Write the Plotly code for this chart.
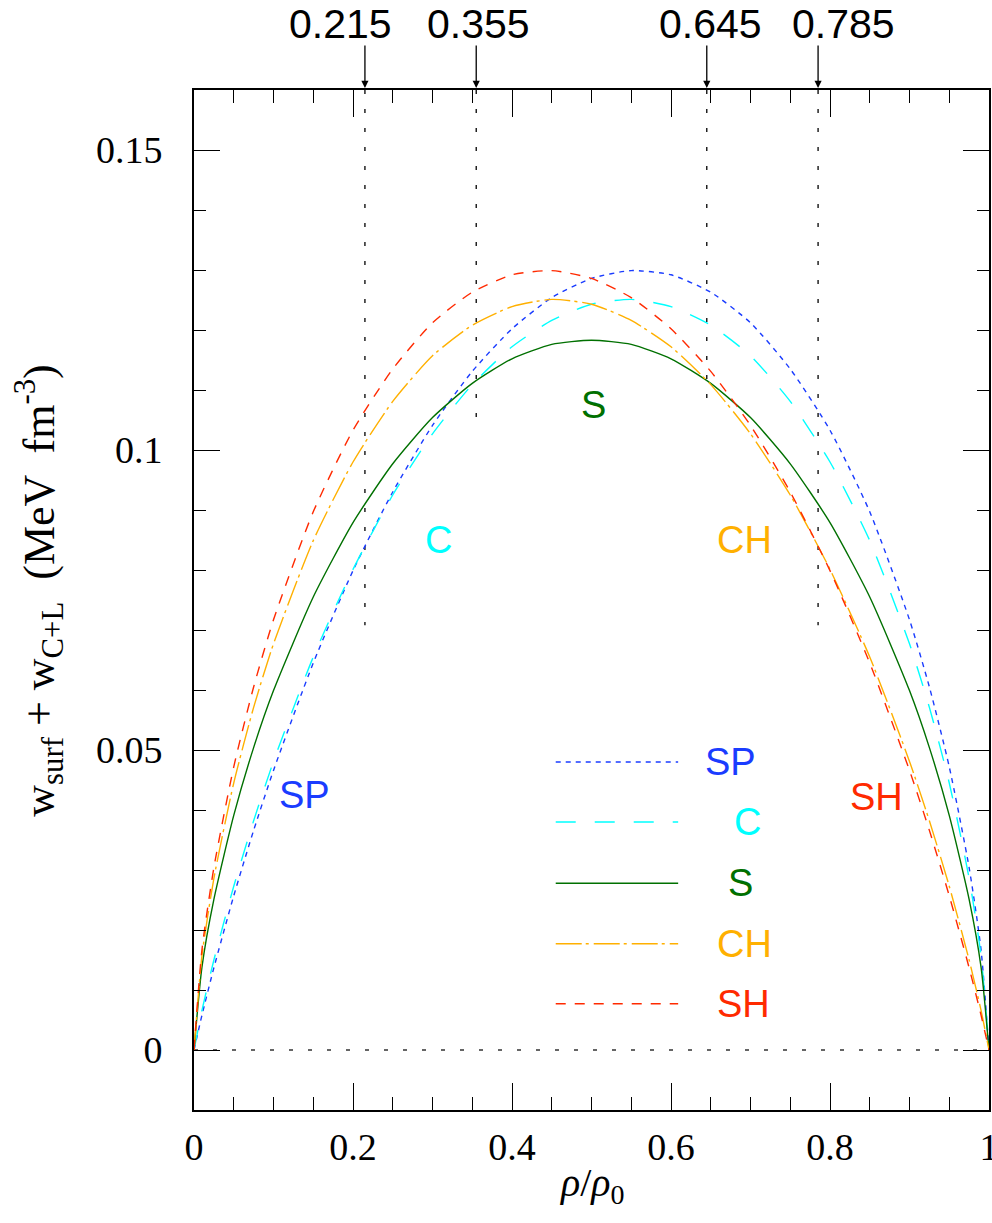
import plotly.graph_objects as go

# ---------------- data ----------------
rho = [0, 0.01, 0.025, 0.05, 0.075, 0.1, 0.15, 0.2, 0.25, 0.3, 0.35, 0.4, 0.45,
       0.5, 0.55, 0.6, 0.65, 0.7, 0.75, 0.8, 0.85, 0.9, 0.925, 0.95, 0.975, 0.99, 1]

w_SP = [0, 0.0058, 0.0137, 0.0257, 0.0366, 0.0466, 0.0645, 0.0799, 0.0930, 0.1041,
        0.1131, 0.1202, 0.1254, 0.1286, 0.1299, 0.1292, 0.1263, 0.1212, 0.1135,
        0.1033, 0.0897, 0.0717, 0.0605, 0.0472, 0.0304, 0.0167, 0]
w_C = [0, 0.0066, 0.0150, 0.0273, 0.0382, 0.0481, 0.0655, 0.0801, 0.0925, 0.1027,
       0.1109, 0.1172, 0.1216, 0.1243, 0.1251, 0.1239, 0.1208, 0.1157, 0.1081,
       0.0980, 0.0849, 0.0677, 0.0571, 0.0445, 0.0286, 0.0157, 0]
w_S = [0, 0.0138, 0.0251, 0.0391, 0.0504, 0.0599, 0.0755, 0.0879, 0.0977, 0.1054,
       0.1111, 0.1152, 0.1176, 0.1183, 0.1176, 0.1152, 0.1111, 0.1054, 0.0977,
       0.0879, 0.0755, 0.0599, 0.0504, 0.0391, 0.0251, 0.0138, 0]
w_CH = [0, 0.0157, 0.0286, 0.0445, 0.0571, 0.0677, 0.0849, 0.0980, 0.1081, 0.1157,
        0.1208, 0.1239, 0.1251, 0.1243, 0.1216, 0.1172, 0.1109, 0.1027, 0.0925,
        0.0801, 0.0655, 0.0481, 0.0382, 0.0273, 0.0150, 0.0066, 0]
w_SH = [0, 0.0167, 0.0304, 0.0472, 0.0605, 0.0717, 0.0897, 0.1033, 0.1135, 0.1212,
        0.1263, 0.1292, 0.1299, 0.1286, 0.1254, 0.1202, 0.1131, 0.1041, 0.0930,
        0.0799, 0.0645, 0.0466, 0.0366, 0.0257, 0.0137, 0.0058, 0]

series_names = ["SP", "C", "S", "CH", "SH"]
series_values = [w_SP, w_C, w_S, w_CH, w_SH]

# transition densities marked at the top
transition_x = [0.215, 0.355, 0.645, 0.785]
transition_labels = ["0.215", "0.355", "0.645", "0.785"]
transition_label_x = [0.1847, 0.358, 0.6495, 0.8166]
transition_line_end = [0.0708, 0.1037, 0.1067, 0.0708]

# in-plot curve labels
curve_label_x = [0.139, 0.307, 0.503, 0.692, 0.859]
curve_label_y = [0.0425, 0.085, 0.1075, 0.085, 0.0422]

# legend block (inside plot)
legend_line_x = [0.455, 0.609]
legend_y = [0.048, 0.038, 0.0278, 0.0177, 0.0077]
legend_label_x = [0.675, 0.696, 0.687, 0.692, 0.691]

x_tickvals = [0, 0.2, 0.4, 0.6, 0.8, 1]
x_ticktext = ["0", "0.2", "0.4", "0.6", "0.8", "1"]
y_tickvals = [0, 0.05, 0.1, 0.15]
y_ticktext = ["0", "0.05", "0.1", "0.15"]

# ---------------- styles ----------------
colors = {"SP": "#1a3cff", "C": "#00ffff", "S": "#007000", "CH": "#ffb000", "SH": "#ff2a00"}
dashes = {"SP": "5px,5px", "C": "20px,19px", "S": "solid",
          "CH": "26px,4px,3px,5px", "SH": "10px,9px"}
serif = "Liberation Serif"
sans = "Liberation Sans"

fig = go.Figure()

# zero reference line
fig.add_trace(go.Scatter(x=[0, 1], y=[0, 0], mode="lines",
                         line=dict(color="#333333", width=1.3, dash="4px,15px"),
                         showlegend=False, hoverinfo="skip"))

# transition dotted verticals
for xv, ye in zip(transition_x, transition_line_end):
    fig.add_trace(go.Scatter(x=[xv, xv], y=[0.16, ye], mode="lines",
                             line=dict(color="black", width=1.3, dash="4px,15px"),
                             showlegend=False, hoverinfo="skip"))

# curves
for name, vals in zip(series_names, series_values):
    fig.add_trace(go.Scatter(x=rho, y=vals, mode="lines", name=name,
                             line=dict(color=colors[name], width=1.4, dash=dashes[name],
                                       shape="spline", smoothing=0.6),
                             showlegend=False))

# legend samples
for name, ly in zip(series_names, legend_y):
    fig.add_trace(go.Scatter(x=legend_line_x, y=[ly, ly], mode="lines",
                             line=dict(color=colors[name], width=1.6, dash=dashes[name]),
                             showlegend=False, hoverinfo="skip"))

annotations = []
for name, lx, ly in zip(series_names, legend_label_x, legend_y):
    annotations.append(dict(x=lx, y=ly, xref="x", yref="y", text=name, showarrow=False,
                            font=dict(family=sans, size=38, color=colors[name])))
for name, cx, cy in zip(series_names, curve_label_x, curve_label_y):
    annotations.append(dict(x=cx, y=cy, xref="x", yref="y", text=name, showarrow=False,
                            font=dict(family=sans, size=38, color=colors[name])))
# arrows at transition densities
for xv in transition_x:
    annotations.append(dict(x=xv, y=0.16, xref="x", yref="y", text="", showarrow=True,
                            ax=0, ay=-46, arrowhead=2, arrowsize=1.1, arrowwidth=1.3,
                            arrowcolor="black", standoff=2))
# labels above the arrows
for lx, lab in zip(transition_label_x, transition_labels):
    annotations.append(dict(x=lx, y=1.0647, xref="x", yref="paper", text=lab,
                            showarrow=False, xanchor="center", yanchor="middle",
                            font=dict(family=sans, size=41, color="black")))

# axis titles
annotations.append(dict(x=-0.195, y=0.51, xref="paper", yref="paper", textangle=-90,
                        xanchor="center", yanchor="middle",
                        text="w<sub>surf</sub> + w<sub>C+L</sub>  (MeV  fm<sup>-3</sup>)",
                        showarrow=False, font=dict(family=serif, size=44, color="black")))
annotations.append(dict(x=0.5, y=-0.074, xref="paper", yref="paper",
                        xanchor="center", yanchor="middle",
                        text="<i>ρ</i>/<i>ρ</i><sub>0</sub>",
                        showarrow=False, font=dict(family=serif, size=40, color="black")))

axis_common = dict(showgrid=False, zeroline=False, showline=True, linecolor="black",
                   linewidth=2, mirror="allticks", ticks="inside", tickcolor="black",
                   tickwidth=1.3, ticklabeloverflow="allow", automargin=False,
                   tickfont=dict(family=serif, size=38, color="black"))

fig.update_layout(
    width=992, height=1223,
    margin=dict(l=194, r=3, t=90, b=113, autoexpand=False),
    plot_bgcolor="white", paper_bgcolor="white",
    annotations=annotations,
    xaxis=dict(range=[0, 1], tickmode="array", tickvals=x_tickvals, ticktext=x_ticktext,
               ticklen=27, ticklabelstandoff=2,
               minor=dict(tickmode="linear", tick0=0, dtick=0.05, ticks="inside",
                          ticklen=13, tickwidth=1.3, tickcolor="black"),
               **axis_common),
    yaxis=dict(range=[-0.01, 0.16], tickmode="array", tickvals=y_tickvals, ticktext=y_ticktext,
               ticklen=26, ticklabelstandoff=22,
               minor=dict(tickmode="linear", tick0=0, dtick=0.01, ticks="inside",
                          ticklen=12, tickwidth=1.3, tickcolor="black"),
               **axis_common),
)

fig.write_html("out.html")
